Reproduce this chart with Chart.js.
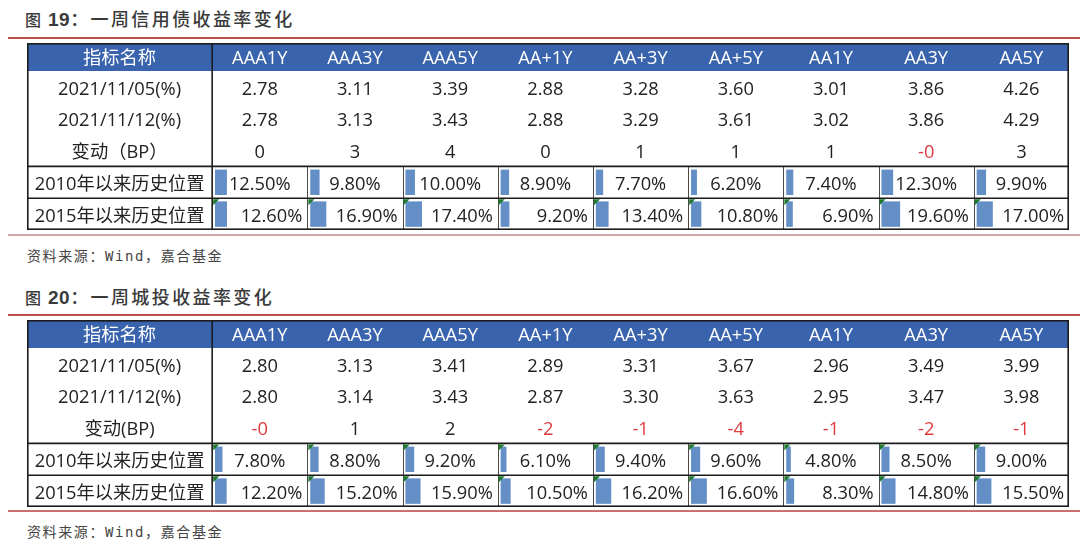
<!DOCTYPE html>
<html>
<head>
<meta charset="utf-8">
<script src="https://cdn.jsdelivr.net/npm/chart.js@4.4.1/dist/chart.umd.min.js"></script>
<style>
  html, body { margin: 0; padding: 0; background: #ffffff; }
  body { width: 1080px; height: 548px; position: relative; overflow: hidden; }
  .title { position: absolute; left: 25px; height: 24px; line-height: 24px; color: #3a3a3a;
           font-family: "Noto Sans CJK SC", sans-serif; font-weight: 500; font-size: 18px; letter-spacing: 2.4px; white-space: nowrap; }
  .title .fig { font-size: 16px; letter-spacing: 0; margin-right: 7px; }
  .title .num { font-family: "Liberation Sans", Arial, sans-serif; font-weight: 700; font-size: 19px; letter-spacing: 0.5px; }
  .rule { position: absolute; left: 8px; width: 1072px; height: 2px; }
  .src { position: absolute; left: 27px; height: 20px; line-height: 20px; color: #444;
         font-family: "DejaVu Sans Mono", "Noto Sans CJK SC", monospace; font-size: 14px; letter-spacing: 1.6px; white-space: nowrap; }
  .tbl { position: absolute; left: 27px; width: 1042px; height: 187px; }
</style>
</head>
<body>
<div class="title" style="top:6px"><span class="fig">图</span><span class="num">19</span>：一周信用债收益率变化</div>
<div class="rule" style="top:37px;background:#c0504d"></div>
<div class="tbl" style="top:43px"><canvas id="t1"></canvas></div>
<div class="rule" style="top:234px;background:#cfa7a7"></div>
<div class="src" style="top:246px">资料来源：Wind，嘉合基金</div>

<div class="title" style="top:284px"><span class="fig">图</span><span class="num">20</span>：一周城投收益率变化</div>
<div class="rule" style="top:314px;background:#c0504d"></div>
<div class="tbl" style="top:320px"><canvas id="t2"></canvas></div>
<div class="rule" style="top:510px;background:#cf6f6f"></div>
<div class="src" style="top:522px">资料来源：Wind，嘉合基金</div>

<script>
// ---------- data ----------
const headerLabel = '指标名称';
const columns = ['AAA1Y', 'AAA3Y', 'AAA5Y', 'AA+1Y', 'AA+3Y', 'AA+5Y', 'AA1Y', 'AA3Y', 'AA5Y'];

const t1RowLabels = ['2021/11/05(%)', '2021/11/12(%)', '变动（BP）', '2010年以来历史位置', '2015年以来历史位置'];
const t1Yield1105 = [2.78, 3.11, 3.39, 2.88, 3.28, 3.60, 3.01, 3.86, 4.26];
const t1Yield1112 = [2.78, 3.13, 3.43, 2.88, 3.29, 3.61, 3.02, 3.86, 4.29];
const t1ChangeBP  = [0, 3, 4, 0, 1, 1, 1, -0, 3];
const t1Pct2010   = [12.5, 9.8, 10.0, 8.9, 7.7, 6.2, 7.4, 12.3, 9.9];
const t1Pct2015   = [12.6, 16.9, 17.4, 9.2, 13.4, 10.8, 6.9, 19.6, 17.0];

const t2RowLabels = ['2021/11/05(%)', '2021/11/12(%)', '变动(BP)', '2010年以来历史位置', '2015年以来历史位置'];
const t2Yield1105 = [2.80, 3.13, 3.41, 2.89, 3.31, 3.67, 2.96, 3.49, 3.99];
const t2Yield1112 = [2.80, 3.14, 3.43, 2.87, 3.30, 3.63, 2.95, 3.47, 3.98];
const t2ChangeBP  = [-0, 1, 2, -2, -1, -4, -1, -2, -1];
const t2Pct2010   = [7.8, 8.8, 9.2, 6.1, 9.4, 9.6, 4.8, 8.5, 9.0];
const t2Pct2015   = [12.2, 15.2, 15.9, 10.5, 16.2, 16.6, 8.3, 14.8, 15.5];

// ---------- layout / style constants ----------
const LABEL_COL = 1.945;     // label column width, in data-column units
const BAR_PAD = 0.03;        // gap between cell edge and data bar (column units)
const TEXT_DY = 2.5;         // vertical text nudge inside rows (px)
const FONT = '18.3px "Open Sans", "Noto Sans CJK SC", sans-serif';
const HEADER_BLUE = '#3a63ad';
const BAR_BLUE = '#638ec6';
const TEXT = '#222222';
const NEG_RED = '#e0393e';
const FLAG_GREEN = '#1f7a2c';

function fmtBP(v) { return (v < 0 || Object.is(v, -0)) ? '-' + Math.abs(v) : String(v); }

function buildTable(canvasId, rowLabels, y1, y2, bp, p10, p15, headerH, flags) {
  const pctRows = [p10, p15];
  const datasets = columns.map((c, k) => ({
    label: c,
    data: rowLabels.map((_, r) => r >= 3 ? [k + BAR_PAD, k + BAR_PAD + pctRows[r - 3][k] / 100] : null),
    backgroundColor: BAR_BLUE,
    borderWidth: 0,
    grouped: false,
    barPercentage: 0.8,
    categoryPercentage: 1.0
  }));

  const tablePlugin = {
    id: 'tableDraw',
    beforeDatasetsDraw(chart) {
      const ctx = chart.ctx, a = chart.chartArea;
      ctx.save();
      ctx.fillStyle = HEADER_BLUE;
      ctx.fillRect(a.left, 0, a.right - a.left, a.top);
      ctx.restore();
    },
    afterDatasetsDraw(chart) {
      const ctx = chart.ctx, a = chart.chartArea;
      const xs = chart.scales.x, ys = chart.scales.y;
      const band = (a.bottom - a.top) / rowLabels.length;
      const px = u => xs.getPixelForValue(u);
      const rowTop = r => ys.getPixelForValue(r) - band / 2;
      ctx.save();
      // lines
      ctx.strokeStyle = '#4a4a4a';
      ctx.lineWidth = 1;
      for (let k = 1; k < columns.length; k++) {
        const x = Math.round(px(k)) + 0.5;
        ctx.beginPath(); ctx.moveTo(x, rowTop(3)); ctx.lineTo(x, a.bottom); ctx.stroke();
      }
      ctx.strokeStyle = '#1c1c1c';
      ctx.lineWidth = 1.6;
      [rowTop(3), rowTop(4)].forEach(y => {
        ctx.beginPath(); ctx.moveTo(a.left, y); ctx.lineTo(a.right, y); ctx.stroke();
      });
      const x0 = px(0);
      ctx.beginPath(); ctx.moveTo(x0, 0); ctx.lineTo(x0, a.bottom); ctx.stroke();
      ctx.strokeRect(a.left + 0.8, 0.8, a.right - a.left - 1.6, a.bottom - 1.6);

      // flags (green corner marks)
      ctx.fillStyle = FLAG_GREEN;
      flags.forEach((on, i) => {
        if (!on) return;
        const y = rowTop(3 + i) + 1;
        for (let k = 0; k < columns.length; k++) {
          const x = px(k) + 1;
          ctx.beginPath(); ctx.moveTo(x, y); ctx.lineTo(x + 6, y); ctx.lineTo(x, y + 6); ctx.closePath(); ctx.fill();
        }
      });

      // text
      ctx.font = FONT;
      ctx.textBaseline = 'middle';
      ctx.textAlign = 'center';
      const hy = a.top / 2 + 1.5;
      ctx.fillStyle = '#ffffff';
      ctx.fillText(headerLabel, px(-LABEL_COL / 2), hy);
      columns.forEach((c, k) => ctx.fillText(c, px(k + 0.5), hy));

      rowLabels.forEach((lab, r) => {
        const cy = ys.getPixelForValue(r) + TEXT_DY;
        ctx.fillStyle = TEXT;
        ctx.textAlign = 'center';
        ctx.fillText(lab, px(-LABEL_COL / 2), cy);
        for (let k = 0; k < columns.length; k++) {
          let s, color = TEXT, align = 'center', x = px(k + 0.5);
          if (r === 0) s = y1[k].toFixed(2);
          else if (r === 1) s = y2[k].toFixed(2);
          else if (r === 2) { s = fmtBP(bp[k]); if (bp[k] < 0 || Object.is(bp[k], -0)) color = NEG_RED; }
          else if (r === 3) { s = p10[k].toFixed(2) + '%'; }
          else { s = p15[k].toFixed(2) + '%'; align = 'right'; x = px(k + 1) - 5; }
          ctx.fillStyle = color;
          ctx.textAlign = align;
          ctx.fillText(s, x, cy);
        }
      });
      ctx.restore();
    }
  };

  return new Chart(document.getElementById(canvasId), {
    type: 'bar',
    data: { labels: rowLabels, datasets },
    options: {
      indexAxis: 'y',
      responsive: true,
      maintainAspectRatio: false,
      animation: false,
      layout: { padding: { top: headerH, left: 0, right: 0, bottom: 0 } },
      plugins: { legend: { display: false }, tooltip: { enabled: false }, title: { display: false } },
      scales: {
        x: { type: 'linear', min: -LABEL_COL, max: columns.length, display: false, grid: { display: false } },
        y: { type: 'category', display: false, offset: true, grid: { display: false } }
      }
    },
    plugins: [tablePlugin]
  });
}

buildTable('t1', t1RowLabels, t1Yield1105, t1Yield1112, t1ChangeBP, t1Pct2010, t1Pct2015, 28, [false, true]);
buildTable('t2', t2RowLabels, t2Yield1105, t2Yield1112, t2ChangeBP, t2Pct2010, t2Pct2015, 28, [true, true]);
</script>
</body>
</html>
